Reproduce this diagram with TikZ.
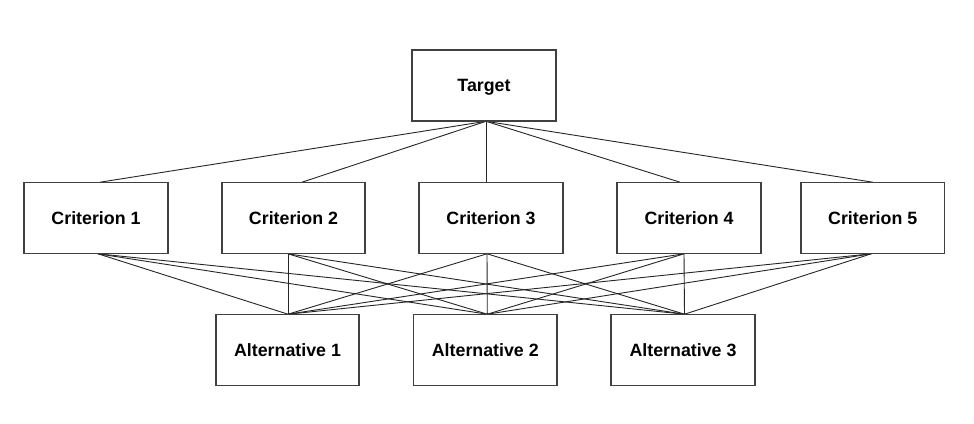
\documentclass[tikz,border=0pt]{standalone}
\usepackage{fontspec}
\setmainfont{Liberation Sans}
\begin{document}
\begin{tikzpicture}[x=1pt,y=-1pt,
  box/.style={draw=black!75, line width=1.1pt, minimum width=143pt, minimum height=70.5pt,
    inner sep=0pt, text height=12.8pt, text depth=0pt,
    font=\fontsize{17.8}{20}\selectfont\bfseries, fill=white},
  link/.style={draw=black!85, line width=0.9pt}]
\useasboundingbox[fill=white] (0,0) rectangle (974,423);
\node[box] (t) at (484,85.5) {Target};
\node[box] (c1) at (96,218) {Criterion 1};
\node[box] (c2) at (293.5,218) {Criterion 2};
\node[box] (c3) at (491,218) {Criterion 3};
\node[box] (c4) at (689,218) {Criterion 4};
\node[box] (c5) at (872.7,218) {Criterion 5};
\node[box] (a1) at (287.5,350) {Alternative 1};
\node[box] (a2) at (485.3,350) {Alternative 2};
\node[box] (a3) at (683,350) {Alternative 3};
% attachment points
\coordinate (tb) at ([xshift=2pt]t.south);
\coordinate (c1t) at ([xshift=4pt]c1.north);
\coordinate (c2t) at ([xshift=8.5pt]c2.north);
\coordinate (c3t) at ([xshift=-5pt]c3.north);
\coordinate (c4t) at ([xshift=-9pt]c4.north);
\coordinate (c5t) at ([xshift=0pt]c5.north);
\coordinate (c1b) at ([xshift=2pt]c1.south);
\coordinate (c2b) at ([xshift=-5.5pt]c2.south);
\coordinate (c3b) at ([xshift=-4pt]c3.south);
\coordinate (c4b) at ([xshift=-5pt]c4.south);
\coordinate (c5b) at ([xshift=-1.5pt]c5.south);
\coordinate (a1t) at ([xshift=0.5pt]a1.north);
\coordinate (a2t) at ([xshift=2pt]a2.north);
\coordinate (a3t) at ([xshift=1.5pt]a3.north);
\foreach \c in {c1t,c2t,c3t,c4t,c5t} \draw[link] (tb) -- (\c);
\foreach \c in {c1b,c2b,c3b,c4b,c5b}
  \foreach \a in {a1t,a2t,a3t} \draw[link] (\c) -- (\a);
% redraw box outlines on top of the connector ends
\foreach \n in {t,c1,c2,c3,c4,c5,a1,a2,a3}
  \draw[draw=black!75, line width=1.1pt] (\n.north west) rectangle (\n.south east);
\end{tikzpicture}
\end{document}
